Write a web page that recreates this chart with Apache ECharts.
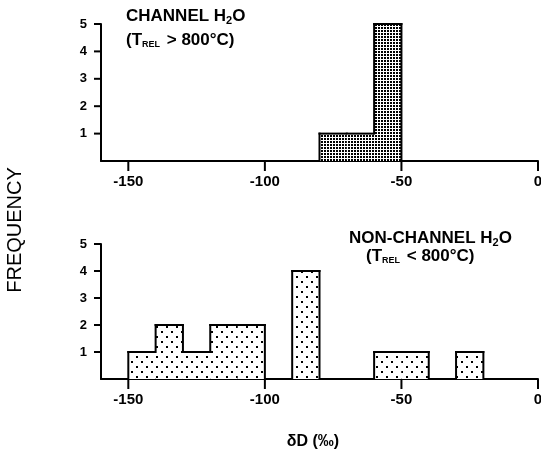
<!DOCTYPE html>
<html>
<head>
<meta charset="utf-8">
<script src="https://cdn.jsdelivr.net/npm/echarts@6/dist/echarts.min.js"></script>
<style>html,body{margin:0;padding:0;background:#fff;}#c{width:541px;height:459px;}</style>
</head>
<body>
<div id="c"></div>
<script>
// ---- data ----
var binWidth = 10;
var topBinStarts = [-80, -70, -60];
var topCounts = [1, 1, 5];
var bottomBinStarts = [-150, -140, -130, -120, -110, -90, -60, -50, -30];
var bottomCounts = [1, 2, 1, 2, 2, 4, 1, 1, 1];
var xTicks = [-150, -100, -50, 0];
var yTicks = [1, 2, 3, 4, 5];
var xMin = -160, xMax = 0, yMin = 0, yMax = 5;
var topTitle = 'CHANNEL H';
var bottomTitle = 'NON-CHANNEL H';

function makePattern(w, h, dots, size) {
  var c = document.createElement('canvas');
  c.width = w; c.height = h;
  var g = c.getContext('2d');
  g.fillStyle = '#fff'; g.fillRect(0, 0, w, h);
  g.fillStyle = '#000';
  dots.forEach(function (d) { g.fillRect(d[0], d[1], size, size); });
  return c;
}
var densePat = { image: makePattern(3, 3, [[0, 0]], 2), repeat: 'repeat' };
var sparsePat = { image: makePattern(10, 10, [[1, 1], [6, 6]], 2), repeat: 'repeat' };

function buildItems(starts, counts) {
  var map = {};
  starts.forEach(function (s, i) { map[s] = counts[i]; });
  return starts.map(function (s, i) {
    var prev = map[s - binWidth] || 0;
    var next = map[s + binWidth] || 0;
    return [s, s + binWidth, counts[i], prev, next];
  });
}

function makeRender(pat) {
  return function (params, api) {
    var x0 = api.value(0), x1 = api.value(1), h = api.value(2), hp = api.value(3), hn = api.value(4);
    var a = api.coord([x0, 0]), b = api.coord([x1, h]);
    var children = [];
    children.push({ type: 'rect', shape: { x: a[0], y: b[1], width: b[0] - a[0], height: a[1] - b[1] }, style: { fill: pat } });
    var ls = { stroke: '#000', lineWidth: 2 };
    children.push({ type: 'line', shape: { x1: a[0] - 1, y1: b[1], x2: b[0] + 1, y2: b[1] }, style: ls });
    if (hp !== h) {
      var p1 = api.coord([x0, Math.min(hp, h)]), p2 = api.coord([x0, Math.max(hp, h)]);
      children.push({ type: 'line', shape: { x1: p1[0], y1: p1[1] + 1, x2: p2[0], y2: p2[1] - 1 }, style: ls });
    }
    if (hn === 0) {
      var q1 = api.coord([x1, 0]);
      children.push({ type: 'line', shape: { x1: q1[0], y1: q1[1] + 1, x2: b[0], y2: b[1] - 1 }, style: ls });
    }
    return { type: 'group', children: children };
  };
}

var fontFam = 'Liberation Sans, Arial, sans-serif';
function xAxisOpt(idx) {
  return {
    gridIndex: idx, type: 'value', min: xMin, max: xMax,
    axisLine: { onZero: false, lineStyle: { color: '#000', width: 2 } },
    axisTick: { show: false },
    axisLabel: { customValues: xTicks, color: '#000', fontSize: 15, fontWeight: 'bold', fontFamily: fontFam, margin: 13 },
    splitLine: { show: false }
  };
}
function yAxisOpt(idx) {
  return {
    gridIndex: idx, type: 'value', min: yMin, max: yMax,
    axisLine: { show: true, onZero: false, lineStyle: { color: '#000', width: 2 } },
    axisTick: { show: false },
    axisLabel: { customValues: yTicks, color: '#000', fontSize: 13, fontWeight: 'bold', fontFamily: fontFam, margin: 14 },
    splitLine: { show: false }
  };
}

var titleRich = {
  a: { fontSize: 17, fontWeight: 'bold', fontFamily: fontFam, color: '#000' },
  s: { fontSize: 11, fontWeight: 'bold', fontFamily: fontFam, color: '#000', padding: [8, 0, 0, 0] },
  r: { fontSize: 9, fontWeight: 'bold', fontFamily: fontFam, color: '#000', padding: [8, 2, 0, 0] }
};

var textGraphics = [
  { type: 'text', left: 126, top: 8, style: { text: '{a|' + topTitle + '}{s|2}{a|O}', rich: titleRich } },
  { type: 'text', left: 126, top: 32, style: { text: '{a|(T}{r|REL}{a| > 800°C)}', rich: titleRich } },
  { type: 'text', left: 349, top: 230, style: { text: '{a|' + bottomTitle + '}{s|2}{a|O}', rich: titleRich } },
  { type: 'text', left: 366, top: 248, style: { text: '{a|(T}{r|REL}{a| < 800°C)}', rich: titleRich } },
  { type: 'text', x: 15, y: 230, rotation: Math.PI / 2, style: { text: 'FREQUENCY', font: '20px ' + fontFam, fill: '#000', align: 'center', verticalAlign: 'middle' } },
  { type: 'text', x: 313, y: 442, style: { text: 'δD (‰)', font: 'bold 16px ' + fontFam, fill: '#000', align: 'center', verticalAlign: 'middle' } }
];

var chart = echarts.init(document.getElementById('c'), null, { renderer: 'canvas' });
chart.setOption({
  animation: false,
  backgroundColor: '#fff',
  grid: [
    { left: 101, right: 3, top: 24, height: 137, outerBoundsMode: 'none', containLabel: false },
    { left: 101, right: 3, top: 244, height: 135, outerBoundsMode: 'none', containLabel: false }
  ],
  xAxis: [xAxisOpt(0), xAxisOpt(1)],
  yAxis: [yAxisOpt(0), yAxisOpt(1)],
  series: [
    { type: 'custom', xAxisIndex: 0, yAxisIndex: 0, renderItem: makeRender(densePat), data: buildItems(topBinStarts, topCounts), encode: { x: [0, 1], y: 2 } },
    { type: 'custom', xAxisIndex: 1, yAxisIndex: 1, renderItem: makeRender(sparsePat), data: buildItems(bottomBinStarts, bottomCounts), encode: { x: [0, 1], y: 2 } }
  ],
  graphic: textGraphics
});

// tick marks placed through each grid's scales (axis ticks cannot start at -150 when min is -160)
var tickGraphics = [];
[0, 1].forEach(function (gi) {
  xTicks.forEach(function (v) {
    var p = chart.convertToPixel({ gridIndex: gi }, [v, yMin]);
    tickGraphics.push({ type: 'rect', z: 100, shape: { x: p[0] - 1, y: p[1], width: 2, height: 10 }, style: { fill: '#000000' } });
  });
  yTicks.forEach(function (v) {
    var p = chart.convertToPixel({ gridIndex: gi }, [xMin, v]);
    tickGraphics.push({ type: 'rect', z: 100, shape: { x: p[0] - 7, y: p[1] - 1, width: 7, height: 2 }, style: { fill: '#000000' } });
  });
});
chart.setOption({ graphic: textGraphics.concat(tickGraphics) });
</script>
</body>
</html>
